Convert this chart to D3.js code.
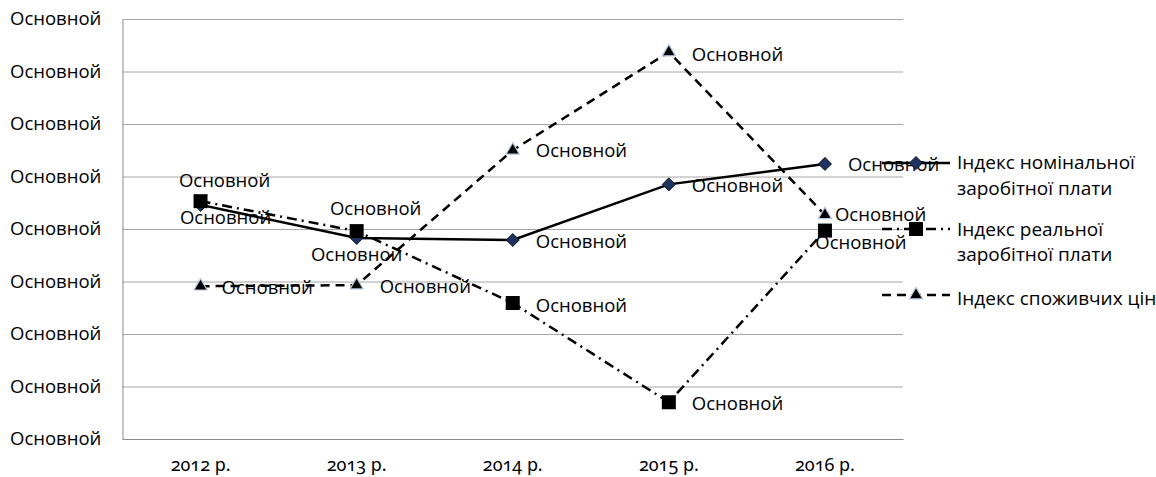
<!DOCTYPE html>
<html>
<head>
<meta charset="utf-8">
<script src="https://cdn.jsdelivr.net/npm/d3@7"></script>
<style>
  body { margin: 0; background: #fff; }
  svg text { font-family: "Open Sans", "Noto Sans", sans-serif; font-size: 18.5px; fill: #000; }
  .xlab text { font-family: "Noto Sans", sans-serif; font-size: 18px; font-variant-numeric: oldstyle-nums; font-feature-settings: "onum" 1; }
  .legend text { font-size: 19px; }
</style>
</head>
<body>
<div id="chart"></div>
<script>
// data
const years = ["2012 р.", "2013 р.", "2014 р.", "2015 р.", "2016 р."];
const nominal = [114.6, 108.3, 107.9, 118.5, 122.4];
const real = [115.3, 109.6, 95.9, 77.0, 109.7];
const cpi = [99.1, 99.3, 125.0, 143.7, 112.7];
const yTicks = [70, 80, 90, 100, 110, 120, 130, 140, 150];
const tickLabel = "Основной";
const pointLabel = "Основной";
const seriesNames = [["Індекс номінальної", "заробітної плати"], ["Індекс реальної", "заробітної плати"], ["Індекс споживчих цін"]];

const w = 1156, h = 477;
const plotLeft = 122.5, plotRight = 903, plotTop = 19, plotBottom = 439;

// label placement, offsets from the point
const labelOffsets = [
  [[0, 13, "below", 25], [0, 17, "below", 0], [23, 1, "right"], [23, 1, "right"], [23, 1, "right"]],
  [[0, -21, "above", 24], [0, -23, "above", 19], [23, 2, "right"], [23, 1, "right"], [0, 12, "below", 36]],
  [[21, 1, "right"], [23, 1, "right"], [23, 0, "right"], [23, 2, "right"], [10, 0, "right"]]
];

const series = [
  {name: seriesNames[0], values: nominal, dash: null, marker: "diamond"},
  {name: seriesNames[1], values: real, dash: "10,5,2,5", marker: "square"},
  {name: seriesNames[2], values: cpi, dash: "9,6", marker: "triangle"}
];

const svg = d3.select("#chart").append("svg")
  .attr("width", w)
  .attr("height", h);

const x = d3.scaleBand().domain(years).range([plotLeft, plotRight]).padding(0);
const y = d3.scaleLinear().domain([70, 150]).range([plotBottom, plotTop]);
const cx = (i) => x(years[i]) + x.bandwidth() / 2;

// gridlines
svg.append("g")
  .attr("transform", "translate(" + plotLeft + ",0)")
  .call(d3.axisLeft(y).tickValues(yTicks).tickSize(-(plotRight - plotLeft)).tickFormat(""))
  .call(g => g.select(".domain").remove())
  .call(g => g.selectAll("line").attr("stroke", "#a6a6a6").attr("stroke-width", 1));

// y axis
const yAxis = svg.append("g")
  .attr("transform", "translate(" + plotLeft + ",0)")
  .call(d3.axisLeft(y).tickValues(yTicks).tickSize(0).tickFormat(() => tickLabel));
yAxis.select(".domain").attr("stroke", "#8c8c8c");
yAxis.selectAll("text")
  .attr("x", 10 - plotLeft)
  .attr("text-anchor", "start");
yAxis.attr("font-family", null).attr("font-size", null);

// x axis
const xAxis = svg.append("g")
  .attr("class", "xlab")
  .attr("transform", "translate(0," + plotBottom + ")")
  .call(d3.axisBottom(x).tickSize(0).tickPadding(19));
xAxis.select(".domain").attr("stroke", "#8c8c8c");
xAxis.attr("font-family", null).attr("font-size", null);

// markers
function drawMarker(g, type, px, py) {
  if (type === "diamond") {
    g.append("path")
      .attr("d", d3.symbol(d3.symbolDiamond2, 110)())
      .attr("transform", "translate(" + px + "," + py + ")")
      .attr("fill", "#1c3461")
      .attr("stroke", "#000")
      .attr("stroke-width", 0.8);
  } else if (type === "square") {
    g.append("rect")
      .attr("x", px - 7).attr("y", py - 7)
      .attr("width", 14).attr("height", 14)
      .attr("fill", "#000");
  } else {
    g.append("path")
      .attr("d", d3.symbol(d3.symbolTriangle, 75)())
      .attr("transform", "translate(" + px + "," + py + ")")
      .attr("fill", "#000")
      .attr("stroke", "#b7c6e2")
      .attr("stroke-width", 1.2);
  }
}

const line = d3.line().x((d, i) => cx(i)).y(d => y(d));

series.forEach((s, k) => {
  const g = svg.append("g");
  g.append("path")
    .datum(s.values)
    .attr("d", line)
    .attr("fill", "none")
    .attr("stroke", "#000")
    .attr("stroke-width", 2.5)
    .attr("stroke-dasharray", s.dash);
  s.values.forEach((v, i) => drawMarker(g, s.marker, cx(i), y(v)));
});

// point labels on top
series.forEach((s, k) => {
  s.values.forEach((v, i) => {
    const o = labelOffsets[k][i];
    const t = svg.append("text")
      .attr("y", y(v) + o[1])
      .attr("dy", "0.35em")
      .text(pointLabel);
    if (o[2] === "right") {
      t.attr("x", cx(i) + o[0]).attr("text-anchor", "start");
    } else {
      t.attr("x", cx(i) + o[3]).attr("text-anchor", "middle");
    }
  });
});

// legend
const legY = [163, 229, 295];
const textY = [[162, 188], [229, 254], [298]];
series.forEach((s, k) => {
  const g = svg.append("g").attr("class", "legend");
  g.append("line")
    .attr("x1", 882).attr("x2", 950)
    .attr("y1", legY[k]).attr("y2", legY[k])
    .attr("stroke", "#000")
    .attr("stroke-width", 2.5)
    .attr("stroke-dasharray", s.dash);
  drawMarker(g, s.marker, 916, legY[k]);
  s.name.forEach((ln, j) => {
    g.append("text")
      .attr("x", 957)
      .attr("y", textY[k][j])
      .attr("dy", "0.35em")
      .text(ln);
  });
});
</script>
</body>
</html>
